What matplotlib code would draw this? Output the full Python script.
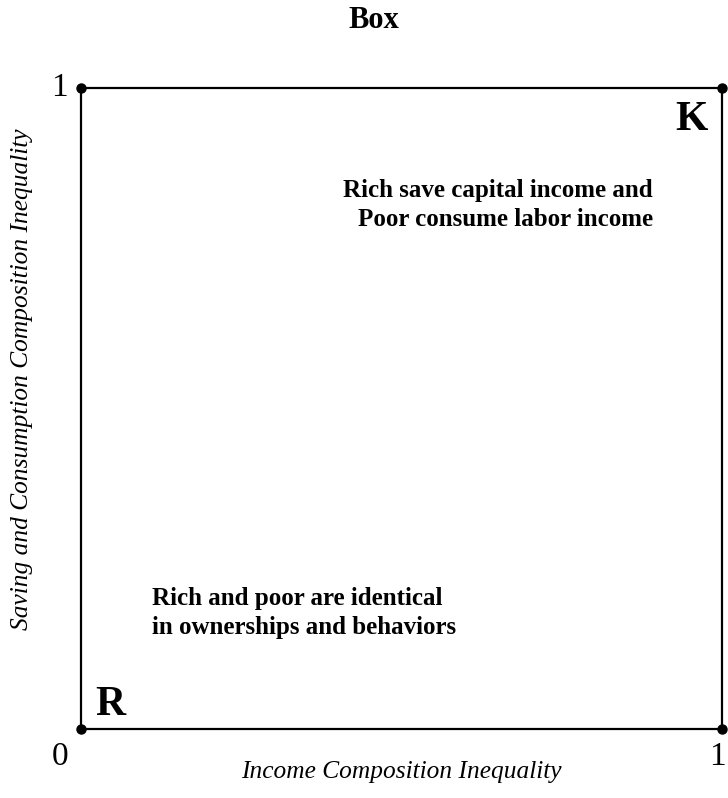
import matplotlib
matplotlib.use("Agg")
import matplotlib.pyplot as plt

plt.rcParams['font.family'] = ['Liberation Serif', 'DejaVu Serif']

# box corners (unit square)
box_x = [0, 1, 1, 0, 0]
box_y = [0, 0, 1, 1, 0]
corner_x = [0, 0, 1, 1]
corner_y = [0, 1, 0, 1]

title = "Box"
x_label = "Income Composition Inequality"
y_label = "Saving and Consumption Composition Inequality"
top_note = "Rich save capital income and\nPoor consume labor income"
bottom_note = "Rich and poor are identical\nin ownerships and behaviors"

fig = plt.figure(figsize=(7.28, 7.98), dpi=100)
ax = fig.add_axes([81 / 728, 69 / 798, 641 / 728, 641 / 798])

ax.plot(box_x, box_y, color='black', lw=1.6, clip_on=False)
ax.plot(corner_x, corner_y, 'o', color='black', ms=6.5, clip_on=False)

ax.set_xlim(0, 1)
ax.set_ylim(0, 1)
ax.axis('off')

# corner labels
ax.text(-0.02, 1.0, "1", ha='right', va='center', fontsize=24)
ax.text(-0.02, -0.02, "0", ha='right', va='top', fontsize=24)
ax.text(0.993, -0.02, "1", ha='center', va='top', fontsize=24)

ax.text(0.023, 0.022, "R", ha='left', va='baseline', fontsize=30, fontweight='bold')
ax.text(0.978, 0.934, "K", ha='right', va='baseline', fontsize=30, fontweight='bold')

ax.text(0.892, 0.858, top_note, ha='right', va='top', multialignment='right',
        fontsize=18, fontweight='bold', linespacing=1.35)
ax.text(0.111, 0.222, bottom_note, ha='left', va='top', multialignment='left',
        fontsize=18, fontweight='bold', linespacing=1.35)

fig.text(401.5 / 728, 1 - 772 / 798, x_label, ha='center', va='center',
         fontsize=18.3, style='italic')
fig.text(22 / 728, 1 - 379 / 798, y_label, ha='center', va='center',
         rotation=90, fontsize=18.3, style='italic')
fig.text(374 / 728, 1 - 20 / 798, title, ha='center', va='center',
         fontsize=22, fontweight='bold')

fig.savefig("out.png", dpi=100)
